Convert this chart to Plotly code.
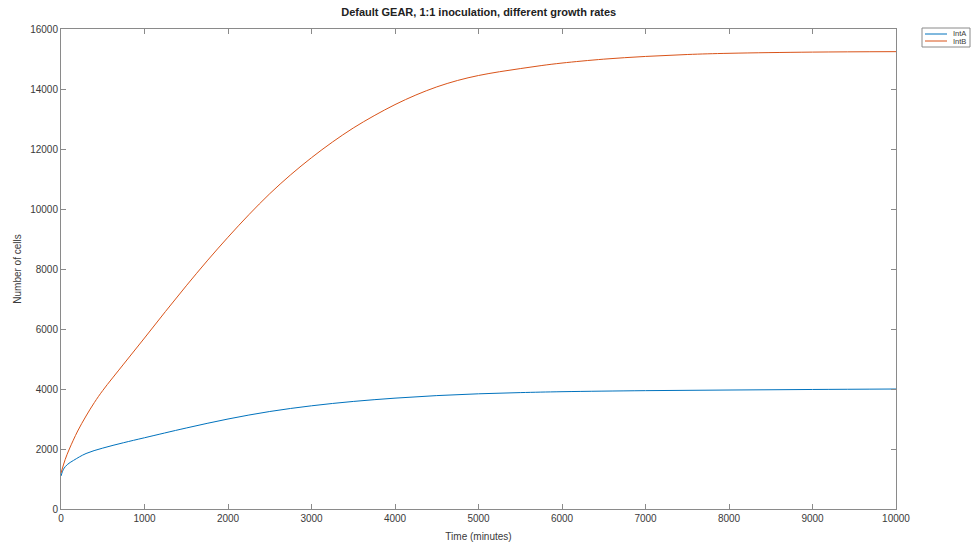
import plotly.graph_objects as go

# Simulated population counts over time (minutes)
time_a = [0, 30, 75, 150, 300, 500, 750, 1000, 1500, 2000, 2500, 3000, 3500,
          4000, 4500, 5000, 5500, 6000, 7000, 8000, 9000, 10000]
int_a = [1100, 1330, 1480, 1620, 1850, 2030, 2210, 2375, 2700, 3000, 3250, 3440,
         3585, 3695, 3780, 3840, 3880, 3910, 3945, 3966, 3984, 4000]

time_b = [0, 50, 100, 200, 300, 400, 500, 750, 1000, 1250, 1500, 1750, 2000,
          2250, 2500, 2750, 3000, 3250, 3500, 3750, 4000, 4250, 4500, 4750,
          5000, 5250, 5500, 5750, 6000, 6500, 7000, 7500, 8000, 9000, 10000]
int_b = [1200, 1650, 2000, 2600, 3100, 3550, 3950, 4830, 5700, 6580, 7440, 8270,
         9060, 9810, 10510, 11140, 11710, 12230, 12700, 13110, 13480, 13800,
         14070, 14285, 14450, 14575, 14680, 14780, 14865, 14995, 15085, 15150,
         15190, 15230, 15245]

series_names = ["IntA", "IntB"]
series_colors = ["#0072BD", "#D95319"]

x_ticks = list(range(0, 10001, 1000))
x_tick_labels = [str(v) for v in x_ticks]
y_ticks = list(range(0, 16001, 2000))
y_tick_labels = [str(v) for v in y_ticks]

FONT = "Liberation Sans, Arial, Helvetica, sans-serif"
AXIS_COLOR = "#8a8a8a"
TEXT_COLOR = "#3a3a3a"

W, H = 972, 543
ML, MR, MT, MB = 61, 76, 29, 34
PW, PH = W - ML - MR, H - MT - MB


def px_x(p):
    """Pixel column -> paper x."""
    return (p - ML) / PW


def px_y(p):
    """Pixel row -> paper y."""
    return (H - MB - p) / PH


fig = go.Figure()
for name, color, xs, ys in zip(series_names, series_colors,
                               [time_a, time_b], [int_a, int_b]):
    fig.add_trace(go.Scatter(x=xs, y=ys, mode="lines", name=name,
                             line=dict(color=color, width=1, shape="spline", smoothing=1.0)))

axis_common = dict(
    showgrid=False, zeroline=False, showline=True, linecolor=AXIS_COLOR, linewidth=1,
    mirror="ticks", ticks="inside", ticklen=5, tickwidth=1, tickcolor=AXIS_COLOR,
    tickfont=dict(family=FONT, size=10, color=TEXT_COLOR), automargin=False,
)

# Compact boxed legend in the top-right corner
shapes = [dict(type="rect", xref="paper", yref="paper",
               x0=px_x(922), x1=px_x(970), y0=px_y(47), y1=px_y(28),
               line=dict(color=AXIS_COLOR, width=1), fillcolor="white", layer="above")]
annotations = []
for i, (name, color) in enumerate(zip(series_names, series_colors)):
    row = 34 + i * 7
    shapes.append(dict(type="line", xref="paper", yref="paper",
                       x0=px_x(925), x1=px_x(947), y0=px_y(row), y1=px_y(row),
                       line=dict(color=color, width=1)))
    annotations.append(dict(text=name, xref="paper", yref="paper",
                            x=px_x(951), y=px_y(row), xanchor="left", yanchor="middle",
                            showarrow=False,
                            font=dict(family=FONT, size=7.5, color=TEXT_COLOR)))

fig.update_layout(
    width=W, height=H,
    margin=dict(l=ML, r=MR, t=MT, b=MB),
    paper_bgcolor="white", plot_bgcolor="white",
    font=dict(family=FONT, color=TEXT_COLOR),
    title=dict(text="<b>Default GEAR, 1:1 inoculation, different growth rates</b>",
               font=dict(family=FONT, size=11, color="#222222"),
               x=0.4925, xanchor="center", y=0.978, yanchor="middle"),
    xaxis=dict(axis_common, range=[0, 10000], tickvals=x_ticks, ticktext=x_tick_labels,
               title=dict(text="Time (minutes)", font=dict(family=FONT, size=10, color=TEXT_COLOR),
                          standoff=9)),
    yaxis=dict(axis_common, range=[0, 16000], tickvals=y_ticks, ticktext=y_tick_labels,
               title=dict(text="Number of cells", font=dict(family=FONT, size=10, color=TEXT_COLOR),
                          standoff=6)),
    showlegend=False,
    shapes=shapes,
    annotations=annotations,
)

fig.write_html("out.html")
